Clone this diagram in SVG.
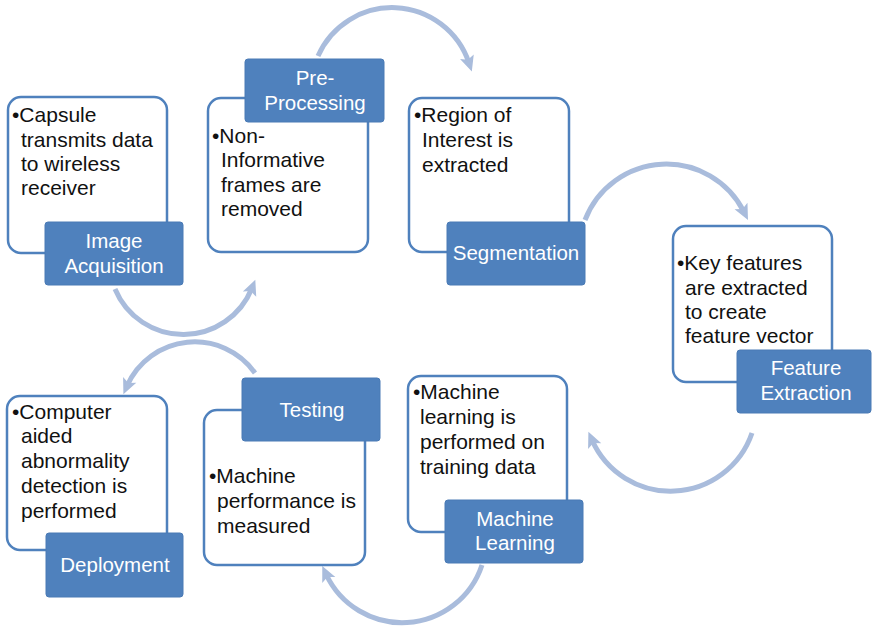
<svg xmlns="http://www.w3.org/2000/svg" width="872" height="626" viewBox="0 0 872 626">
<style>
.box{fill:#ffffff;stroke:#4f81bd;stroke-width:2.5}
.lab{fill:#4f81bd;stroke:#4a7ab5;stroke-width:1}
.t{font-family:"Liberation Sans",Arial,sans-serif;font-size:21px;fill:#111111}
.l{font-family:"Liberation Sans",Arial,sans-serif;font-size:20.5px;fill:#ffffff;text-anchor:middle}
.arr{fill:none;stroke:#a9bcdc;stroke-width:5}
</style>
<defs>
<marker id="ah" markerUnits="userSpaceOnUse" markerWidth="20" markerHeight="20" viewBox="-2 -8 18 16" refX="6" refY="0" orient="auto">
<path d="M0,-6.5 L14,0 L0,6.5 L3,0 z" fill="#a9bcdc"/>
</marker>
</defs>
<rect width="872" height="626" fill="#ffffff"/>
<g id="connectors">
<path class="arr" d="M115,289 A74,74 0 0 0 252,288" marker-end="url(#ah)"/>
<path class="arr" d="M318,56 A81,81 0 0 1 469,63" marker-end="url(#ah)"/>
<path class="arr" d="M585,220 A87,87 0 0 1 744,212" marker-end="url(#ah)"/>
<path class="arr" d="M752,433 A86,86 0 0 1 592,440" marker-end="url(#ah)"/>
<path class="arr" d="M482,565 A84,84 0 0 1 326,574" marker-end="url(#ah)"/>
<path class="arr" d="M255,373 A74,74 0 0 0 127,386" marker-end="url(#ah)"/>
</g>
<g id="image-acquisition">
<rect class="box" x="8" y="97" width="159" height="156" rx="13"/>
<text class="t"><tspan x="12" y="122">•Capsule</tspan><tspan x="21" y="147">transmits data</tspan><tspan x="21" y="171">to wireless</tspan><tspan x="21" y="195">receiver</tspan></text>
<rect class="lab" x="45" y="222" width="138" height="63" rx="3"/>
<text class="l"><tspan x="114" y="248">Image</tspan><tspan x="114" y="273">Acquisition</tspan></text>
</g>
<g id="pre-processing">
<rect class="box" x="208" y="98" width="160" height="154" rx="13"/>
<text class="t"><tspan x="212" y="143">•Non-</tspan><tspan x="221" y="167">Informative</tspan><tspan x="221" y="192">frames are</tspan><tspan x="221" y="216">removed</tspan></text>
<rect class="lab" x="245" y="59" width="139" height="63" rx="3"/>
<text class="l"><tspan x="315" y="85">Pre-</tspan><tspan x="315" y="110">Processing</tspan></text>
</g>
<g id="segmentation">
<rect class="box" x="409" y="98" width="160" height="154" rx="13"/>
<text class="t"><tspan x="414" y="122">•Region of</tspan><tspan x="422" y="147">Interest is</tspan><tspan x="422" y="172">extracted</tspan></text>
<rect class="lab" x="447" y="222" width="138" height="63" rx="3"/>
<text class="l"><tspan x="516" y="260">Segmentation</tspan></text>
</g>
<g id="feature-extraction">
<rect class="box" x="673" y="226" width="159" height="156" rx="13"/>
<text class="t"><tspan x="677" y="270">•Key features</tspan><tspan x="685" y="295">are extracted</tspan><tspan x="685" y="319">to create</tspan><tspan x="685" y="343">feature vector</tspan></text>
<rect class="lab" x="737" y="350" width="134" height="63" rx="3"/>
<text class="l"><tspan x="806" y="375">Feature</tspan><tspan x="806" y="400">Extraction</tspan></text>
</g>
<g id="machine-learning">
<rect class="box" x="408" y="376" width="159" height="156" rx="13"/>
<text class="t"><tspan x="413" y="399">•Machine</tspan><tspan x="420" y="424">learning is</tspan><tspan x="420" y="449">performed on</tspan><tspan x="420" y="474">training data</tspan></text>
<rect class="lab" x="445" y="500" width="138" height="63" rx="3"/>
<text class="l"><tspan x="515" y="526">Machine</tspan><tspan x="515" y="550">Learning</tspan></text>
</g>
<g id="testing">
<rect class="box" x="204" y="410" width="161" height="155" rx="13"/>
<text class="t"><tspan x="209" y="483">•Machine</tspan><tspan x="217" y="508">performance is</tspan><tspan x="217" y="533">measured</tspan></text>
<rect class="lab" x="242" y="378" width="138" height="63" rx="3"/>
<text class="l"><tspan x="312" y="417">Testing</tspan></text>
</g>
<g id="deployment">
<rect class="box" x="7" y="396" width="160" height="154" rx="13"/>
<text class="t"><tspan x="12" y="419">•Computer</tspan><tspan x="21" y="443">aided</tspan><tspan x="21" y="468">abnormality</tspan><tspan x="21" y="493">detection is</tspan><tspan x="21" y="518">performed</tspan></text>
<rect class="lab" x="46" y="533" width="137" height="64" rx="3"/>
<text class="l"><tspan x="115" y="572">Deployment</tspan></text>
</g>
</svg>
